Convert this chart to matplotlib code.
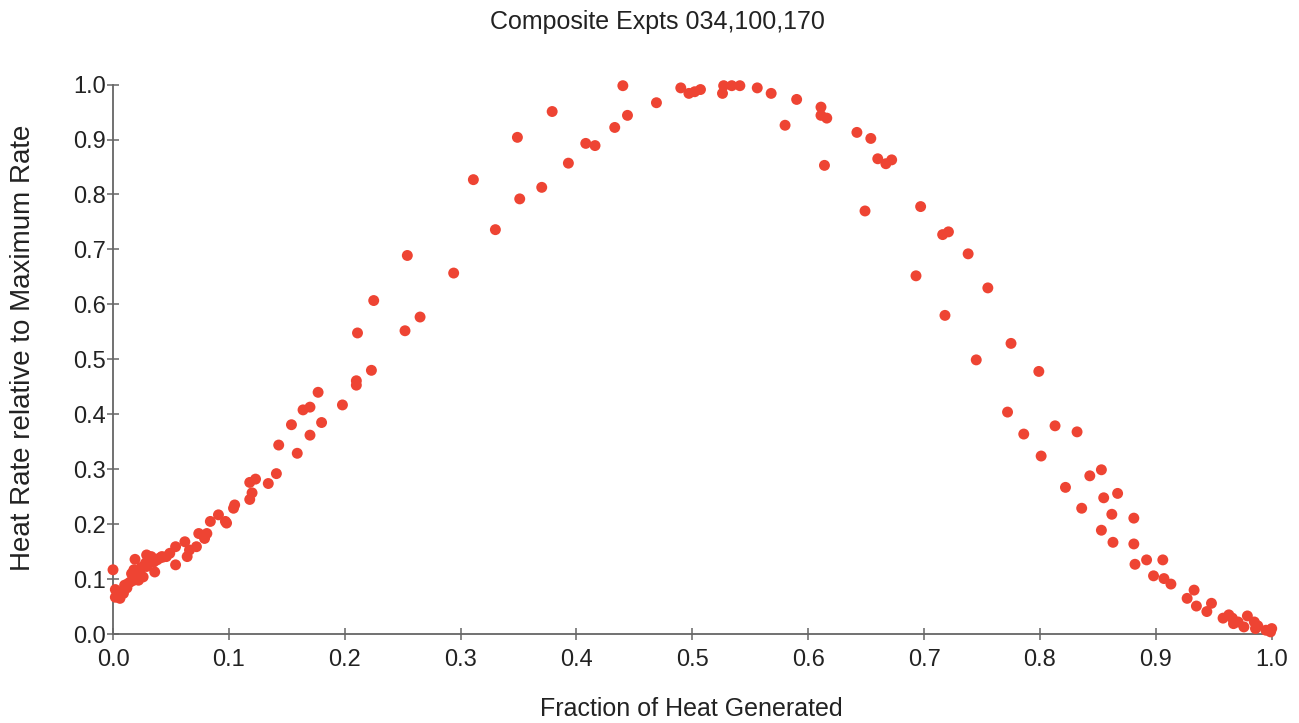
import matplotlib
matplotlib.use("Agg")
import matplotlib.pyplot as plt

plt.rcParams['font.family'] = ['Liberation Sans', 'DejaVu Sans']

# fraction of heat generated (x) and heat rate relative to max (y)
frac = [0.000, 0.002, 0.002, 0.006, 0.009, 0.010, 0.013, 0.015, 0.018, 0.018,
        0.019, 0.022, 0.022, 0.024, 0.026, 0.028, 0.029, 0.029, 0.030, 0.033,
        0.036, 0.038, 0.042, 0.043, 0.046, 0.049, 0.054, 0.054, 0.062, 0.064,
        0.066, 0.072, 0.074, 0.079, 0.081, 0.084, 0.091, 0.097, 0.098, 0.104,
        0.105, 0.118, 0.120, 0.118, 0.123, 0.134, 0.141, 0.143, 0.154, 0.159,
        0.164, 0.170, 0.170, 0.177, 0.180, 0.198, 0.210, 0.210, 0.211, 0.223,
        0.225, 0.252, 0.254, 0.265, 0.294, 0.311, 0.330, 0.349, 0.351, 0.370,
        0.379, 0.393, 0.408, 0.416, 0.433, 0.440, 0.444, 0.469, 0.490, 0.497,
        0.502, 0.507, 0.526, 0.527, 0.534, 0.541, 0.556, 0.568, 0.580, 0.590,
        0.611, 0.611, 0.616, 0.614, 0.642, 0.649, 0.654, 0.660, 0.667, 0.672,
        0.697, 0.693, 0.716, 0.721, 0.718, 0.738, 0.745, 0.755, 0.772, 0.775,
        0.786, 0.799, 0.801, 0.813, 0.822, 0.832, 0.836, 0.843, 0.853, 0.853,
        0.855, 0.862, 0.863, 0.867, 0.881, 0.881, 0.882, 0.892, 0.906, 0.898,
        0.907, 0.913, 0.933, 0.927, 0.935, 0.948, 0.944, 0.958, 0.963, 0.966,
        0.967, 0.971, 0.976, 0.979, 0.985, 0.986, 0.988, 0.995, 0.999, 1.000,
        0.005, 0.012, 0.016, 0.020, 0.025, 0.031, 0.035, 0.040]
rate = [0.117, 0.081, 0.067, 0.065, 0.074, 0.089, 0.092, 0.095, 0.117, 0.098,
        0.136, 0.104, 0.098, 0.120, 0.104, 0.129, 0.144, 0.123, 0.129, 0.141,
        0.113, 0.135, 0.141, 0.140, 0.141, 0.147, 0.159, 0.126, 0.168, 0.141,
        0.153, 0.159, 0.183, 0.174, 0.183, 0.205, 0.217, 0.205, 0.202, 0.229,
        0.235, 0.276, 0.257, 0.245, 0.282, 0.274, 0.292, 0.344, 0.381, 0.329,
        0.408, 0.413, 0.362, 0.440, 0.385, 0.417, 0.461, 0.453, 0.548, 0.480,
        0.607, 0.552, 0.689, 0.577, 0.657, 0.827, 0.736, 0.904, 0.792, 0.813,
        0.951, 0.857, 0.893, 0.889, 0.922, 0.998, 0.944, 0.967, 0.994, 0.984,
        0.987, 0.991, 0.984, 0.998, 0.998, 0.998, 0.994, 0.984, 0.926, 0.973,
        0.959, 0.944, 0.939, 0.853, 0.913, 0.770, 0.902, 0.865, 0.856, 0.863,
        0.778, 0.652, 0.727, 0.732, 0.580, 0.692, 0.499, 0.630, 0.404, 0.529,
        0.364, 0.478, 0.324, 0.379, 0.267, 0.368, 0.229, 0.288, 0.299, 0.189,
        0.248, 0.218, 0.167, 0.256, 0.211, 0.164, 0.127, 0.135, 0.135, 0.106,
        0.101, 0.091, 0.080, 0.065, 0.051, 0.056, 0.041, 0.029, 0.035, 0.029,
        0.019, 0.022, 0.013, 0.033, 0.022, 0.010, 0.015, 0.007, 0.004, 0.010,
        0.075, 0.084, 0.110, 0.112, 0.122, 0.140, 0.131, 0.138]

fig = plt.figure(figsize=(12.99, 7.23), dpi=100)
ax = fig.add_axes([0.087, 0.123, 0.892, 0.76])

ax.scatter(frac, rate, s=62, color='#ee4433', edgecolors='none', clip_on=False, zorder=3)

ax.set_xlim(0, 1)
ax.set_ylim(0, 1)
ax.set_xticks([i / 10 for i in range(11)])
ax.set_yticks([i / 10 for i in range(11)])
ax.xaxis.set_major_formatter(matplotlib.ticker.FormatStrFormatter('%.1f'))
ax.yaxis.set_major_formatter(matplotlib.ticker.FormatStrFormatter('%.1f'))
ax.spines['top'].set_visible(False)
ax.spines['right'].set_visible(False)
for s in ('left', 'bottom'):
    ax.spines[s].set_color('#666666')
    ax.spines[s].set_linewidth(1.3)
ax.tick_params(direction='inout', length=8, width=1.1, color='#666666',
               labelsize=17, labelcolor='#222222')
ax.tick_params(axis='x', pad=7)
ax.tick_params(axis='y', pad=1)

# axis labels and title placed in figure pixels as in the original
fig.text(691.5 / 1299, 1 - 709 / 723, 'Fraction of Heat Generated', fontsize=18,
         color='#222222', ha='center', va='center')
fig.text(23 / 1299, 1 - 348 / 723, 'Heat Rate relative to Maximum Rate', fontsize=20,
         color='#222222', ha='center', va='center', rotation=90)
fig.text(0.506, 1 - 22 / 723, 'Composite Expts 034,100,170', fontsize=18,
         color='#222222', ha='center', va='center')

fig.savefig('out.png', dpi=100)
